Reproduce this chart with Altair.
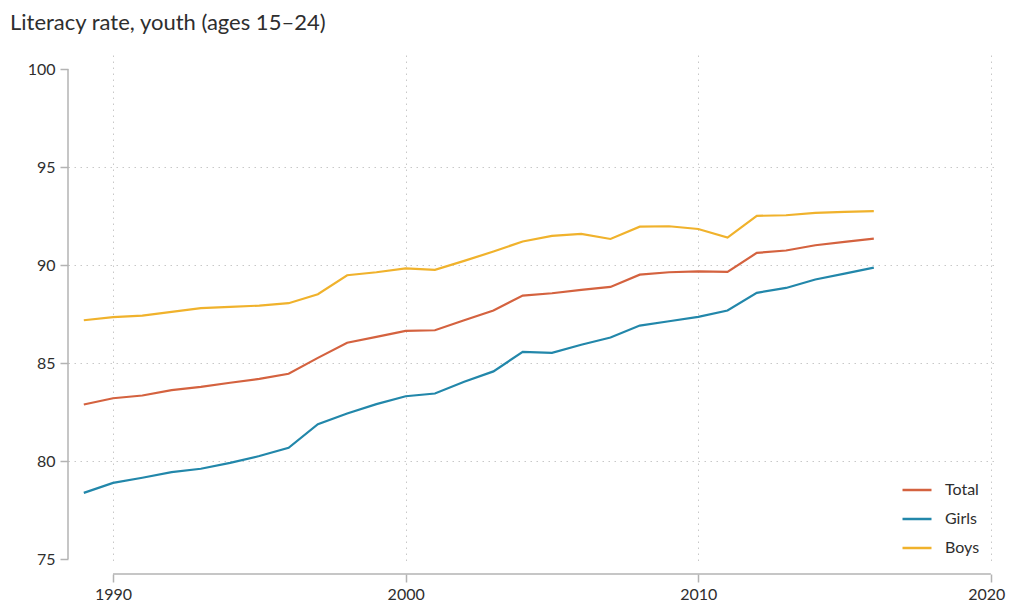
import altair as alt
import pandas as pd

years = list(range(1989, 2017))
total = [82.89, 83.21, 83.35, 83.62, 83.79, 84.00, 84.20, 84.46, 85.27, 86.04,
         86.34, 86.65, 86.68, 87.19, 87.69, 88.45, 88.57, 88.74, 88.89, 89.52,
         89.64, 89.69, 89.66, 90.63, 90.75, 91.02, 91.19, 91.36]
girls = [78.38, 78.89, 79.15, 79.44, 79.61, 79.91, 80.26, 80.68, 81.89, 82.43,
         82.91, 83.31, 83.45, 84.05, 84.58, 85.58, 85.53, 85.94, 86.31, 86.92,
         87.14, 87.36, 87.69, 88.59, 88.84, 89.27, 89.57, 89.88]
boys = [87.19, 87.35, 87.43, 87.62, 87.81, 87.87, 87.94, 88.06, 88.52, 89.49,
        89.64, 89.84, 89.76, 90.22, 90.70, 91.21, 91.50, 91.60, 91.34, 91.97,
        91.99, 91.85, 91.41, 92.52, 92.55, 92.67, 92.72, 92.76]
series_names = ["Total", "Girls", "Boys"]
series_colors = ["#d4623f", "#2287aa", "#f0b22c"]
x_ticks = [1990, 2000, 2010, 2020]
y_ticks = [75, 80, 85, 90, 95, 100]
title_text = "Literacy rate, youth (ages 15–24)"

rows = []
for name, vals in zip(series_names, [total, girls, boys]):
    for yr, v in zip(years, vals):
        rows.append({"year": yr, "value": v, "series": name})
df = pd.DataFrame(rows)

FONT = "Lato"
X0, X1 = 1988.46, 2020.1
PX_PER_YEAR = 29.26
W = round((X1 - X0) * PX_PER_YEAR)
H = 508
AXIS_COLOR = "#b3b3b3"
TEXT_COLOR = "#2e2e2e"
GRID_COLOR = "#c8c8c8"

xscale = alt.Scale(domain=[X0, X0 + W / PX_PER_YEAR], nice=False, zero=False)
yscale = alt.Scale(domain=[74.8, 100.73], nice=False, zero=False)

lines = alt.Chart(df).mark_line(strokeWidth=2.2).encode(
    x=alt.X("year:Q", scale=xscale, title=None,
            axis=alt.Axis(values=x_ticks, format="d", domain=False, offset=11,
                          tickSize=8, tickColor=AXIS_COLOR, tickWidth=1.5,
                          labelFontSize=16, labelFont=FONT, labelColor=TEXT_COLOR,
                          labelPadding=4, labelFlush=10, labelFlushOffset=14,
                          grid=True, gridColor=GRID_COLOR,
                          gridDash=[1.5, 4.5], gridWidth=1)),
    y=alt.Y("value:Q", scale=yscale, title=None,
            axis=alt.Axis(values=y_ticks, domain=False, tickSize=8,
                          tickColor=AXIS_COLOR, tickWidth=1.5,
                          labelFontSize=16, labelFont=FONT, labelColor=TEXT_COLOR,
                          labelPadding=5, grid=True, gridColor=GRID_COLOR,
                          gridDash=[1.5, 4.5], gridWidth=1,
                          gridOpacity=alt.condition("datum.value == 75 || datum.value == 100",
                                                    alt.value(0), alt.value(1)))),
    color=alt.Color("series:N",
                    scale=alt.Scale(domain=series_names, range=series_colors),
                    sort=series_names,
                    legend=alt.Legend(title=None, orient="none", legendX=833, legendY=419,
                                      symbolType="stroke", symbolSize=841,
                                      symbolStrokeWidth=2.5, labelFontSize=16,
                                      labelFont=FONT, labelColor=TEXT_COLOR,
                                      labelOffset=12, rowPadding=5)),
)

xline_df = pd.DataFrame({"x": [x_ticks[0]], "x2": [x_ticks[-1]]})
xline = alt.Chart(xline_df).mark_rule(color=AXIS_COLOR, strokeWidth=1.5).encode(
    x=alt.X("x:Q", scale=xscale), x2="x2:Q", y=alt.value(H + 11)
)
yline_df = pd.DataFrame({"y": [y_ticks[0]], "y2": [y_ticks[-1]]})
yline = alt.Chart(yline_df).mark_rule(color=AXIS_COLOR, strokeWidth=1.5).encode(
    y=alt.Y("y:Q", scale=yscale), y2="y2:Q", x=alt.value(0)
)
title_df = pd.DataFrame({"t": [title_text]})
title = alt.Chart(title_df).mark_text(
    align="left", baseline="alphabetic", fontSize=22, font=FONT, color=TEXT_COLOR
).encode(text="t:N", x=alt.value(-58), y=alt.value(-25))

chart = alt.layer(lines, xline, yline, title).properties(
    width=W, height=H,
    autosize=alt.AutoSizeParams(type="none"),
    padding={"left": 60, "top": 47, "right": 12, "bottom": 45},
).configure_view(stroke=None)

chart.save("out.html", embed_options={"renderer": "svg", "actions": False})
